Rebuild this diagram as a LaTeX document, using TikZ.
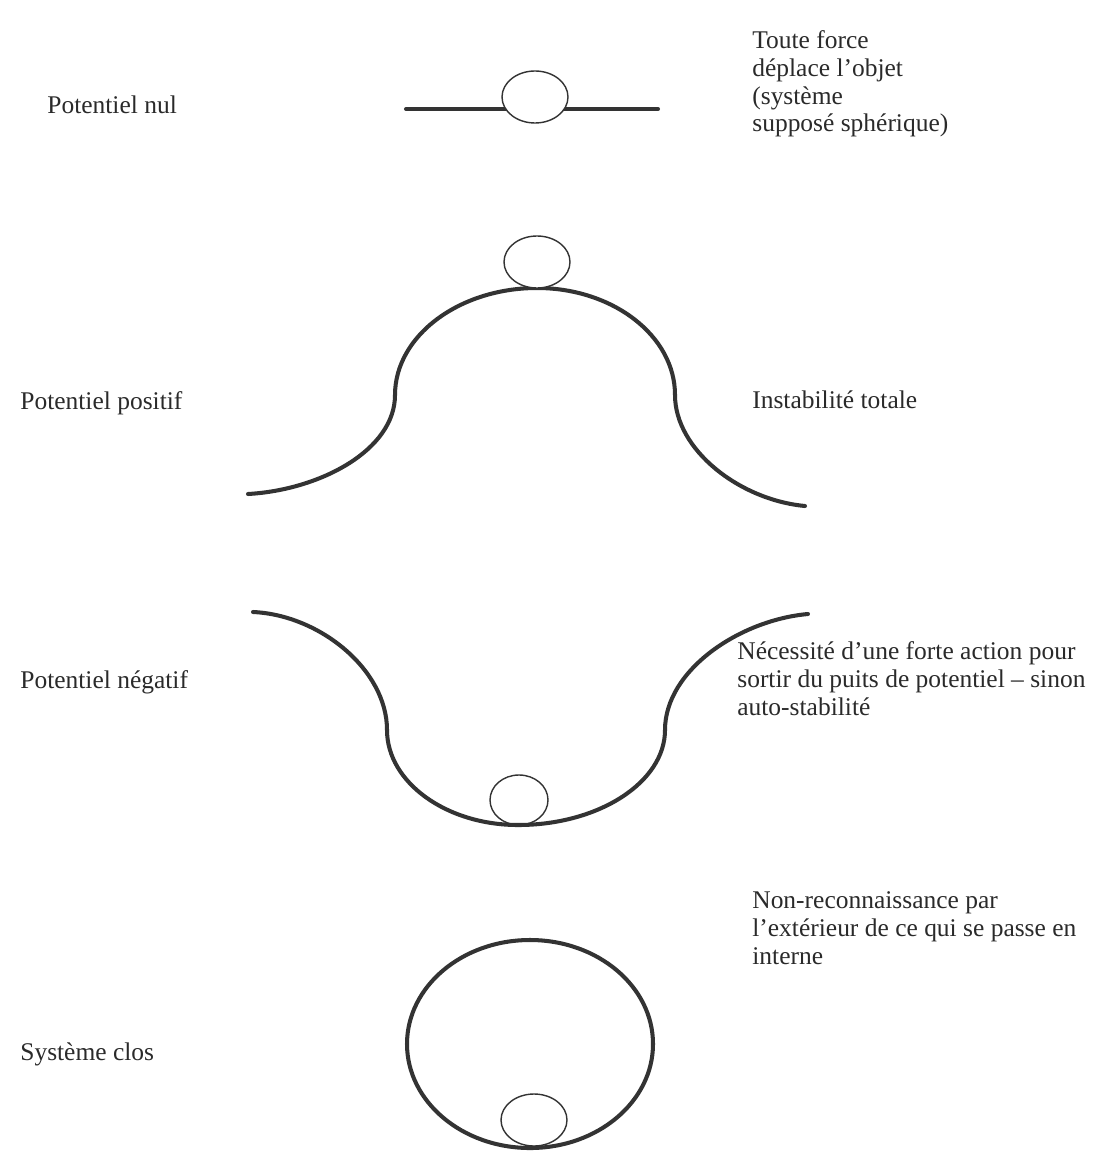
\documentclass[tikz,border=0pt]{standalone}
\usepackage{fontspec}
\setmainfont{Liberation Serif}
\usepackage{tikz}
\usetikzlibrary{calc}
\usepackage{xcolor}
\definecolor{ProfileGray}{HTML}{333333}
\definecolor{NoteGray}{HTML}{2a2a2a}

\begin{document}
\begin{tikzpicture}[x=0.02cm,y=-0.02cm,
    profile/.style={ProfileGray,line width=2.3pt,line cap=round},
    ball/.style={ProfileGray,line width=0.8pt,fill=white},
    rowname/.style={anchor=base west,inner sep=0pt,text=NoteGray,
      font=\fontsize{14.5pt}{15.9pt}\selectfont},
    sidenote/.style={rowname,align=left}]
    \useasboundingbox (0,0) rectangle (1106,1158);

    % potentiel nul
    \coordinate (nA) at (406,109);
    \coordinate (nB) at (658,109);
    \draw[profile] (nA) -- (nB);
    \draw[ball] (535,97) ellipse [x radius=33,y radius=26];
    \node[rowname] (nul) at (47,114) {Potentiel nul};
    % base = last line
    \node[sidenote] (nulnote) at (752,132) {Toute force\\d\'eplace l’objet\\(syst\`eme\\suppos\'e sph\'erique)};

    % potentiel positif
    \coordinate (hL) at (248,494);
    \coordinate (hA) at (395,395);
    \coordinate (hT) at (537,288);
    \coordinate (hB) at (675,395);
    \coordinate (hR) at (805,506);
    \draw[profile] (hL) .. controls (320,490) and (395,450) .. (hA)
      .. controls (395,336) and (459,288) .. (hT)
      .. controls (613,288) and (675,336) .. (hB)
      .. controls (675,450) and (740,500) .. (hR);
    \draw[ball] (537,262) ellipse [x radius=33,y radius=26];
    \node[rowname] (pos) at (20,409) {Potentiel positif};
    \node[rowname] (posnote) at (752,408) {Instabilit\'e totale};

    % potentiel negatif
    \coordinate (wL) at (253,612);
    \coordinate (wA) at (387,730);
    \coordinate (wB) at (518,825);
    \coordinate (wC) at (665,730);
    \coordinate (wR) at (808,614);
    \draw[ball] (519,800) ellipse [x radius=29,y radius=25];
    \draw[profile] (wL) .. controls (320,615) and (387,670) .. (wA)
      .. controls (387,782) and (446,825) .. (wB)
      .. controls (599,825) and (665,782) .. (wC)
      .. controls (665,670) and (740,620) .. (wR);
    \node[rowname] (neg) at (20,688) {Potentiel n\'egatif};
    \node[sidenote] (negnote) at (737,715) {N\'ecessit\'e d’une forte action pour\\sortir du puits de potentiel – sinon\\auto-stabilit\'e};

    % systeme clos
    \draw[ball] (534,1120) ellipse [x radius=33,y radius=26];
    \draw[profile] (530,1044) ellipse [x radius=123,y radius=104];
    \node[rowname] (clos) at (20,1060) {Syst\`eme clos};
    \node[sidenote] (closnote) at (752,964) {Non-reconnaissance par\\l’ext\'erieur de ce qui se passe en\\interne};
\end{tikzpicture}
\end{document}
